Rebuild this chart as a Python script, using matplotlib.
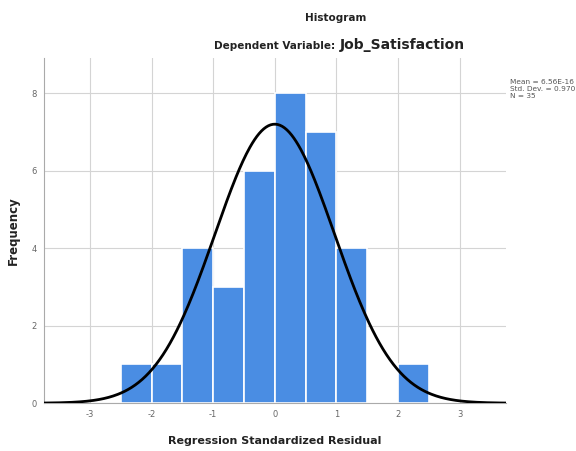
import numpy as np
import matplotlib.pyplot as plt

# histogram bins of the standardized residuals
bin_edges = [-2.5, -2.0, -1.5, -1.0, -0.5, 0.0, 0.5, 1.0, 1.5, 2.0, 2.5]
counts = [1, 1, 4, 3, 6, 8, 7, 4, 0, 1]
mean_val = 6.56e-16
std_val = 0.970
n_obs = 35
x_ticks = [-3, -2, -1, 0, 1, 2, 3]
y_ticks = [0, 2, 4, 6, 8]


def main():
    fig = plt.figure(figsize=(5.76, 4.51), dpi=100)
    ax = fig.add_axes([0.076, 0.106, 0.802, 0.765])

    lefts = np.array(bin_edges[:-1])
    widths = np.diff(bin_edges)
    ax.bar(lefts, counts, width=widths, align='edge', color='#4a8de3',
           edgecolor='white', linewidth=1.2, zorder=2)

    # normal curve scaled to the histogram
    xs = np.linspace(-3.75, 3.75, 400)
    bw = widths[0]
    ys = n_obs * bw / (std_val * np.sqrt(2 * np.pi)) * np.exp(-0.5 * ((xs - mean_val) / std_val) ** 2)
    ax.plot(xs, ys, color='black', linewidth=2, zorder=3)

    ax.set_xlim(-3.75, 3.75)
    ax.set_ylim(0, 8.9)
    ax.set_xticks(x_ticks)
    ax.set_yticks(y_ticks)
    ax.set_xticklabels([str(t) for t in x_ticks])
    ax.grid(True, color='#d4d4d4', linewidth=0.8, zorder=0)
    ax.set_axisbelow(True)
    ax.tick_params(length=0, labelsize=6, colors='#666666', pad=5)
    for s in ['top', 'right']:
        ax.spines[s].set_visible(False)
    ax.spines['left'].set_color('#aaaaaa')
    ax.spines['bottom'].set_color('#aaaaaa')

    ax.set_xlabel('Regression Standardized Residual', fontsize=8, fontweight='bold',
                  color='#222222', labelpad=12)
    ax.set_ylabel('Frequency', fontsize=8.5, fontweight='bold', color='#222222', labelpad=8)

    fig.text(0.582, 0.96, 'Histogram', ha='center', va='center', fontsize=7.5,
             fontweight='bold', color='#222222')
    fig.text(0.588, 0.898, 'Dependent Variable: ', ha='right', va='center', fontsize=7.5,
             fontweight='bold', color='#222222')
    fig.text(0.59, 0.900, 'Job_Satisfaction', ha='left', va='center', fontsize=10,
             fontweight='bold', color='#222222')

    stats = 'Mean = %.2E\nStd. Dev. = %.3f\nN = %d' % (mean_val, std_val, n_obs)
    fig.text(0.886, 0.825, stats, ha='left', va='top', fontsize=5.3, color='#555555',
             linespacing=1.2)

    fig.savefig('out.png', dpi=100)


if __name__ == "__main__":
    main()
